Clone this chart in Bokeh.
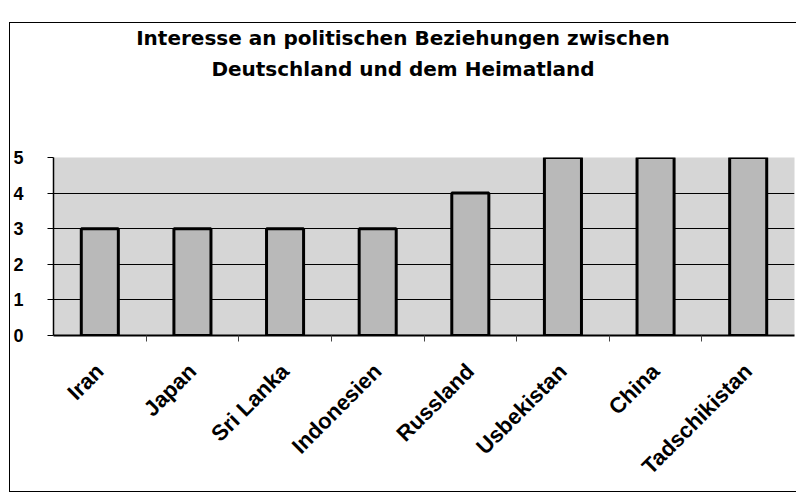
from bokeh.plotting import figure
from bokeh.models import (Range1d, LinearAxis, FixedTicker, Div, ColumnDataSource)
from bokeh.layouts import column
from bokeh.embed import file_html
from bokeh.resources import INLINE
import math

countries = ["Iran", "Japan", "Sri Lanka", "Indonesien", "Russland",
             "Usbekistan", "China", "Tadschikistan"]
interest = [3, 3, 3, 3, 4, 5, 5, 5]
y_ticks = [0, 1, 2, 3, 4, 5]
title_lines = ["Interesse an politischen Beziehungen zwischen",
               "Deutschland und dem Heimatland"]

n = len(countries)
centers = [i + 0.5 for i in range(n)]
bounds = list(range(1, n))
src = ColumnDataSource(data=dict(x=centers, country=countries, interest=interest))

W = 786

title_div = Div(
    text=('<div style="width:%dpx; text-align:center; font-family:\'DejaVu Sans\'; '
          'font-weight:bold; font-size:20px; line-height:31px; color:black; '
          'margin:0; padding:0;">%s</div>') % (W, "<br>".join(title_lines)),
    width=W, height=124, margin=0)

p = figure(width=W, height=344,
           x_range=Range1d(0, n),
           y_range=Range1d(0, max(y_ticks)),
           output_backend="svg", toolbar_location=None,
           x_axis_location=None, title_location=None,
           min_border_left=43, min_border_right=2,
           min_border_top=10, min_border_bottom=156)
p.margin = 0

p.background_fill_color = "#d6d6d6"
p.border_fill_color = "white"
p.outline_line_color = None

# x axis with ticks at category boundaries
bax = LinearAxis(ticker=FixedTicker(ticks=bounds),
                 major_label_overrides={b: "" for b in bounds},
                 major_label_standoff=0,
                 major_tick_out=6, major_tick_in=0,
                 major_tick_line_color="#444444",
                 minor_tick_line_color=None,
                 axis_line_color="black", axis_line_width=2)
p.add_layout(bax, "below")

# category labels at the centres
cax = LinearAxis(ticker=FixedTicker(ticks=centers),
                 major_label_overrides={c: name for c, name in zip(centers, countries)},
                 major_tick_line_color=None, minor_tick_line_color=None,
                 axis_line_color=None,
                 major_label_orientation=math.pi / 4,
                 major_label_standoff=20,
                 major_label_text_font="Liberation Sans",
                 major_label_text_font_style="bold",
                 major_label_text_font_size="22px",
                 major_label_text_color="black")
p.add_layout(cax, "below")

yax = p.yaxis[0]
yax.ticker = FixedTicker(ticks=y_ticks)
yax.major_label_text_font = "Liberation Sans"
yax.major_label_text_font_style = "bold"
yax.major_label_text_font_size = "18px"
yax.major_label_text_color = "black"
yax.major_label_standoff = 24
yax.major_tick_out = 6
yax.major_tick_in = 0
yax.major_tick_line_color = "black"
yax.minor_tick_line_color = None
yax.axis_line_color = "black"
yax.axis_line_width = 1.5

p.xgrid.visible = False
p.ygrid.ticker = FixedTicker(ticks=y_ticks)
p.ygrid.grid_line_color = "black"
p.ygrid.grid_line_width = 1

p.vbar(x="x", top="interest", width=0.4, source=src,
       fill_color="#b9b9b9", line_color="black", line_width=3)

layout = column(title_div, p, spacing=0)
layout.styles = {"margin-top": "22px", "margin-left": "9px",
                 "border-left": "1.5px solid black",
                 "border-top": "1.5px solid black",
                 "border-bottom": "1.5px solid black",
                 "background-color": "white"}

open("out.html", "w").write(file_html(layout, INLINE))
